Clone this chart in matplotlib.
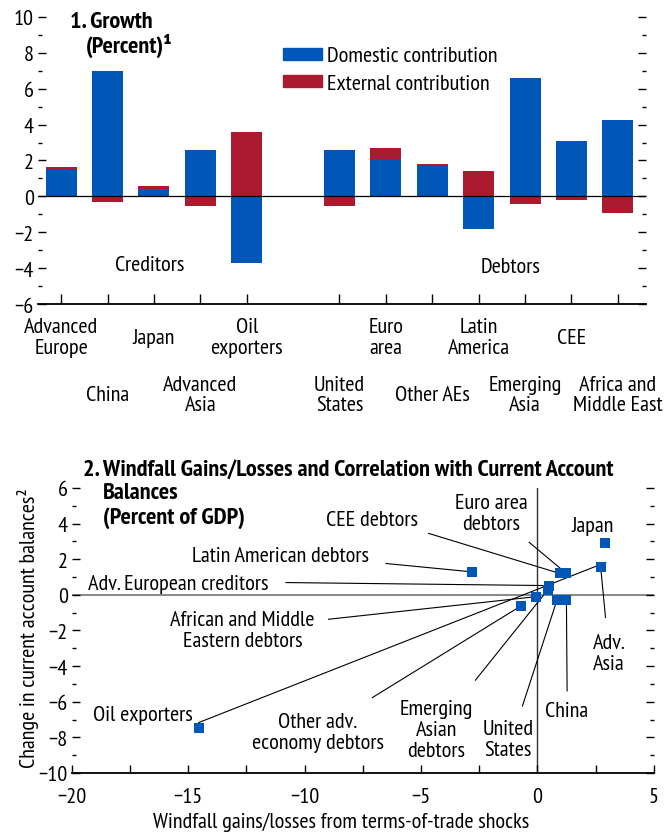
import numpy as np
import matplotlib
matplotlib.use("Agg")
from matplotlib import pyplot as plt
from matplotlib import transforms as mtransforms
from matplotlib.patches import Patch

plt.rcParams["font.family"] = ["PT Sans Narrow", "DejaVu Sans"]
plt.rcParams["axes.unicode_minus"] = True
FS = 16
FS_BOLD = 17.5

BLUE = "#0057b8"
RED = "#ac1a2f"

# ---- panel 1 data ----
categories = [
    "Advanced\nEurope", "China", "Japan", "Advanced\nAsia", "Oil\nexporters",
    "United\nStates", "Euro\narea", "Other AEs", "Latin\nAmerica",
    "Emerging\nAsia", "CEE", "Africa and\nMiddle East",
]
positions = [0, 1, 2, 3, 4, 6, 7, 8, 9, 10, 11, 12]
domestic = [1.5, 7.0, 0.42, 2.6, -3.72, 2.6, 2.1, 1.72, -1.82, 6.62, 3.1, 4.28]
external = [0.15, -0.3, 0.16, -0.53, 3.6, -0.53, 0.6, 0.11, 1.42, -0.41, -0.19, -0.92]

# ---- panel 2 data ----
groups = [
    "Oil exporters", "Latin American debtors", "Japan", "Adv. Asia",
    "CEE debtors", "Euro area debtors", "Adv. European creditors",
    "Emerging Asian debtors", "African and Middle Eastern debtors",
    "Other adv. economy debtors", "United States", "China",
]
windfall = [-14.55, -2.8, 2.92, 2.72, 0.97, 1.25, 0.5, 0.45, -0.05, -0.7, 0.85, 1.25]
ca_change = [-7.47, 1.29, 2.92, 1.58, 1.2, 1.2, 0.52, 0.28, -0.1, -0.62, -0.27, -0.27]
fit_x = [-14.55, 2.94]
fit_y = [-7.17, 1.82]

fig = plt.figure(figsize=(6.65, 8.37), dpi=100)

# ================= panel 1 =================
ax1 = fig.add_axes([0.057, 0.6356, 0.914, 0.343])
dom = np.array(domestic)
ext = np.array(external)
pos = np.array(positions)
w = 0.67
# positives stack on positives, negatives go below zero
ext_base = np.where(np.sign(ext) == np.sign(dom), dom, 0.0)
ax1.bar(pos, dom, w, color=BLUE)
ax1.bar(pos, ext, w, bottom=ext_base, color=RED)
ax1.axhline(0, color="black", lw=0.9)

ax1.set_xlim(-0.5, 12.6)
ax1.set_ylim(-6, 10)
ax1.set_yticks(np.arange(-6, 11, 2))
ax1.set_yticks(np.arange(-5, 10, 2), minor=True)
ax1.set_xticks(positions)
ax1.set_xticklabels([])
for s in ["top", "left", "right"]:
    ax1.spines[s].set_visible(False)
ax1.spines["bottom"].set_linewidth(1.3)
ax1.tick_params(axis="y", which="both", direction="in", left=True, right=True,
                labelsize=FS, pad=3)
ax1.tick_params(axis="y", which="major", length=6, width=1)
ax1.tick_params(axis="y", which="minor", length=3, width=1)
ax1.tick_params(axis="x", direction="in", length=7, width=1, bottom=True)

trans = mtransforms.blended_transform_factory(ax1.transData, ax1.transAxes)
for i, (p, c) in enumerate(zip(positions, categories)):
    yy = -0.115 if i % 2 == 0 else -0.314
    ax1.text(p, yy, c, transform=trans, ha="center", va="center",
             fontsize=FS, linespacing=1.08)

ax1.text(1.9, -3.8, "Creditors", ha="center", va="center", fontsize=FS)
ax1.text(9.68, -3.9, "Debtors", ha="center", va="center", fontsize=FS)
ax1.text(0.19, 9.75, "1. Growth", ha="left", va="center", fontsize=FS_BOLD,
         fontweight="bold")
ax1.text(0.54, 8.45, "(Percent)¹", ha="left", va="center", fontsize=FS_BOLD,
         fontweight="bold")

handles = [Patch(color=BLUE), Patch(color=RED)]
ax1.legend(handles, ["Domestic contribution", "External contribution"],
           loc="upper left", bbox_to_anchor=(0.403, 0.897), frameon=False,
           fontsize=FS, handlelength=1.75, handleheight=0.45, handletextpad=0.25,
           labelspacing=0.38, borderpad=0, borderaxespad=0)

# ================= panel 2 =================
ax2 = fig.add_axes([0.108, 0.0753, 0.875, 0.3405])
ax2.axhline(0, color="#7f7f7f", lw=1.3, zorder=1)
ax2.axvline(0, color="#333333", lw=1.0, zorder=1)
ax2.plot(fit_x, fit_y, color="black", lw=0.8, zorder=2)

# label centre and start of leader line, per group
label_pos = {
    "Oil exporters": (-16.94, -6.7, None),
    "Latin American debtors": (-11.03, 2.23, (-6.5, 1.76)),
    "Japan": (2.38, 3.88, None),
    "Adv. Asia": (3.08, -3.28, (2.93, -1.27)),
    "CEE debtors": (-7.09, 4.21, (-4.67, 3.45)),
    "Euro area debtors": (-1.98, 4.59, (-0.35, 2.95)),
    "Adv. European creditors": (-15.42, 0.66, (-10.8, 0.69)),
    "Emerging Asian debtors": (-4.34, -7.55, (-2.66, -4.79)),
    "African and Middle Eastern debtors": (-12.67, -1.97, (-8.97, -1.37)),
    "Other adv. economy debtors": (-9.43, -7.68, (-7.09, -5.77)),
    "United States": (-1.25, -8.11, (-0.64, -6.24)),
    "China": (1.25, -6.52, (1.28, -5.39)),
}
label_text = {
    "Oil exporters": "Oil exporters",
    "Latin American debtors": "Latin American debtors",
    "Japan": "Japan",
    "Adv. Asia": "Adv.\nAsia",
    "CEE debtors": "CEE debtors",
    "Euro area debtors": "Euro area\ndebtors",
    "Adv. European creditors": "Adv. European creditors",
    "Emerging Asian debtors": "Emerging\nAsian\ndebtors",
    "African and Middle Eastern debtors": "African and Middle\nEastern debtors",
    "Other adv. economy debtors": "Other adv.\neconomy debtors",
    "United States": "United\nStates",
    "China": "China",
}
for g, xv, yv in zip(groups, windfall, ca_change):
    lx, ly, start = label_pos[g]
    ax2.text(lx, ly, label_text[g], ha="center", va="center", fontsize=FS,
             linespacing=1.12)
    if start is not None:
        ax2.plot([start[0], xv], [start[1], yv], color="black", lw=0.8, zorder=2)

ax2.scatter(windfall, ca_change, marker="s", s=44, color=BLUE, zorder=3,
            linewidths=0)

ax2.set_xlim(-20, 5)
ax2.set_ylim(-10, 6)
ax2.set_xticks(np.arange(-20, 6, 5))
ax2.set_xticks(np.arange(-17.5, 5, 5), minor=True)
ax2.set_yticks(np.arange(-10, 7, 2))
ax2.set_yticks(np.arange(-9, 6, 2), minor=True)
for s in ["top", "left", "right"]:
    ax2.spines[s].set_visible(False)
ax2.spines["bottom"].set_linewidth(1.3)
ax2.tick_params(axis="y", which="both", direction="in", left=True, right=True,
                labelsize=FS, pad=3)
ax2.tick_params(axis="y", which="major", length=6, width=1)
ax2.tick_params(axis="y", which="minor", length=3, width=1)
ax2.tick_params(axis="x", which="both", direction="in", length=6, width=1,
                labelsize=FS, pad=10)
ax2.set_xlabel("Windfall gains/losses from terms-of-trade shocks", fontsize=FS)
ax2.xaxis.set_label_coords(0.463, -0.135)
ax2.set_ylabel("Change in current account balances²", fontsize=FS)
ax2.yaxis.set_label_coords(-0.056, 0.51)

fig.text(0.125, 0.4385, "2. Windfall Gains/Losses and Correlation with Current Account",
         ha="left", va="center", fontsize=FS_BOLD, fontweight="bold")
fig.text(0.155, 0.41, "Balances", ha="left", va="center", fontsize=FS_BOLD,
         fontweight="bold")
fig.text(0.155, 0.381, "(Percent of GDP)", ha="left", va="center", fontsize=FS_BOLD,
         fontweight="bold")

fig.savefig("out.png", dpi=100)
